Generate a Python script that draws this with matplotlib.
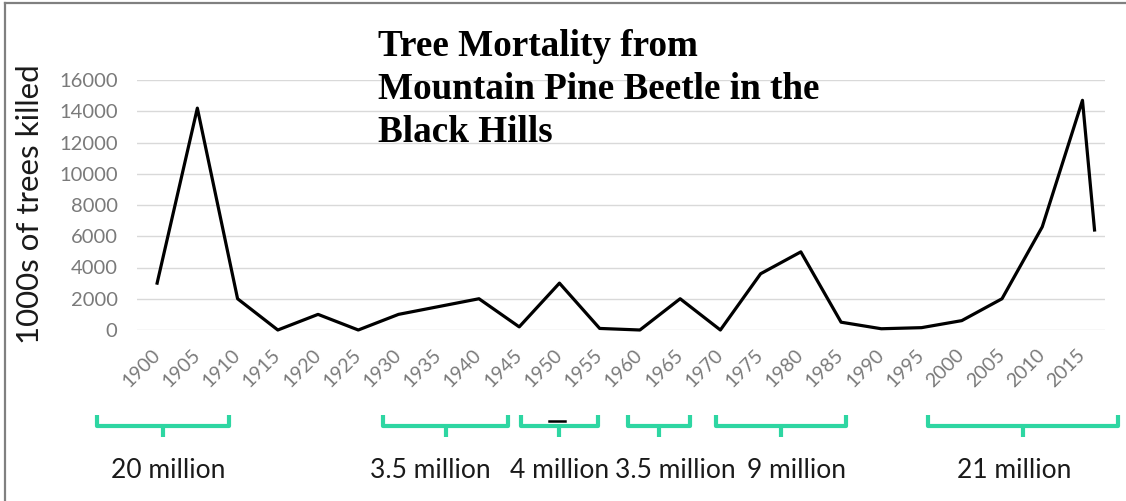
import matplotlib
matplotlib.use("Agg")
import matplotlib.pyplot as plt
from matplotlib.lines import Line2D
from matplotlib.transforms import blended_transform_factory

# mountain pine beetle kills, thousands of trees
years = [1900, 1905, 1910, 1915, 1920, 1925, 1930, 1935, 1940, 1945, 1950, 1955,
         1960, 1965, 1970, 1975, 1980, 1985, 1990, 1995, 2000, 2005, 2010, 2015, 2016.5]
killed = [3000, 14200, 2000, 0, 1000, 0, 1000, 1500, 2000, 200, 3000, 100,
          0, 2000, 0, 3600, 5000, 500, 80, 150, 600, 2000, 6600, 14700, 6400]

tick_years = list(range(1900, 2016, 5))
y_ticks = list(range(0, 16001, 2000))

# outbreak periods and total trees killed in each
outbreak_start = [1892.5, 1928.1, 1945.2, 1958.5, 1969.4, 1995.8]
outbreak_end = [1908.9, 1943.6, 1954.8, 1966.2, 1985.6, 2019.4]
outbreak_label = ["20 million", "3.5 million", "4 million", "3.5 million", "9 million", "21 million"]
label_year = [1901.4, 1933.9, 1950.0, 1964.4, 1979.4, 2006.5]

teal = "#2ed6a2"
sans = "Lato"

fig = plt.figure(figsize=(11.26, 5.01), dpi=100)
ax = fig.add_axes([137 / 1126, 1 - 330 / 501, (1105 - 137) / 1126, 250 / 501])

ax.plot(years, killed, color="black", lw=2.3, clip_on=False, zorder=3)

ax.set_xlim(1897.5, 2017.8)
ax.set_ylim(0, 16000)
ax.set_yticks(y_ticks)
ax.set_yticklabels([str(v) for v in y_ticks], fontfamily=sans, fontsize=14.5, color="#7a7a7a")
ax.set_xticks(tick_years)
ax.set_xticklabels([str(y) for y in tick_years], rotation=45, ha="right", va="center",
                   rotation_mode="anchor", fontfamily=sans, fontsize=14, color="#7a7a7a")
ax.tick_params(axis="x", length=0, pad=16)
ax.tick_params(axis="y", length=0, pad=14)
ax.grid(axis="y", color="#d9d9d9", lw=1)
ax.set_axisbelow(True)
for s in ax.spines.values():
    s.set_visible(False)

# brackets under the axis for each outbreak
tr = blended_transform_factory(ax.transData, fig.transFigure)
y_bar = 1 - 426 / 501
y_arm = 1 - 415 / 501
y_tip = 1 - 437 / 501
y_txt = 1 - 470 / 501
for x0, x1, lab, lx in zip(outbreak_start, outbreak_end, outbreak_label, label_year):
    mid = (x0 + x1) / 2
    ax.plot([x0, x0, x1, x1], [y_arm, y_bar, y_bar, y_arm], color=teal, lw=3,
            transform=tr, clip_on=False, solid_capstyle="butt")
    ax.plot([mid, mid], [y_bar, y_tip], color=teal, lw=3, transform=tr, clip_on=False,
            solid_capstyle="butt")
    ax.text(lx, y_txt, lab, transform=tr, ha="center", va="center",
            fontfamily=sans, fontsize=19, color="#1a1a1a")
ax.plot([1948.7, 1950.7], [1 - 421 / 501] * 2, color="black", lw=1.8, transform=tr, clip_on=False)

fig.text(30 / 1126, 1 - 204 / 501, "1000s of trees killed", rotation=90, ha="center",
         va="center", fontfamily=sans, fontsize=22.5, color="#1a1a1a")

fig.text(378 / 1126, 1 - 29 / 501, "Tree Mortality from\nMountain Pine Beetle in the\nBlack Hills",
         ha="left", va="top", fontfamily="Liberation Serif", fontweight="bold",
         fontsize=26.7, linespacing=1.3, color="black")

# page border
fig.add_artist(Line2D([5 / 1126, 5 / 1126], [0, 1 - 3 / 501], transform=fig.transFigure,
                      color="#808080", lw=1.6))
fig.add_artist(Line2D([5 / 1126, 1], [1 - 3 / 501, 1 - 3 / 501], transform=fig.transFigure,
                      color="#808080", lw=1.6))

fig.savefig("out.png", dpi=100, facecolor="white")
